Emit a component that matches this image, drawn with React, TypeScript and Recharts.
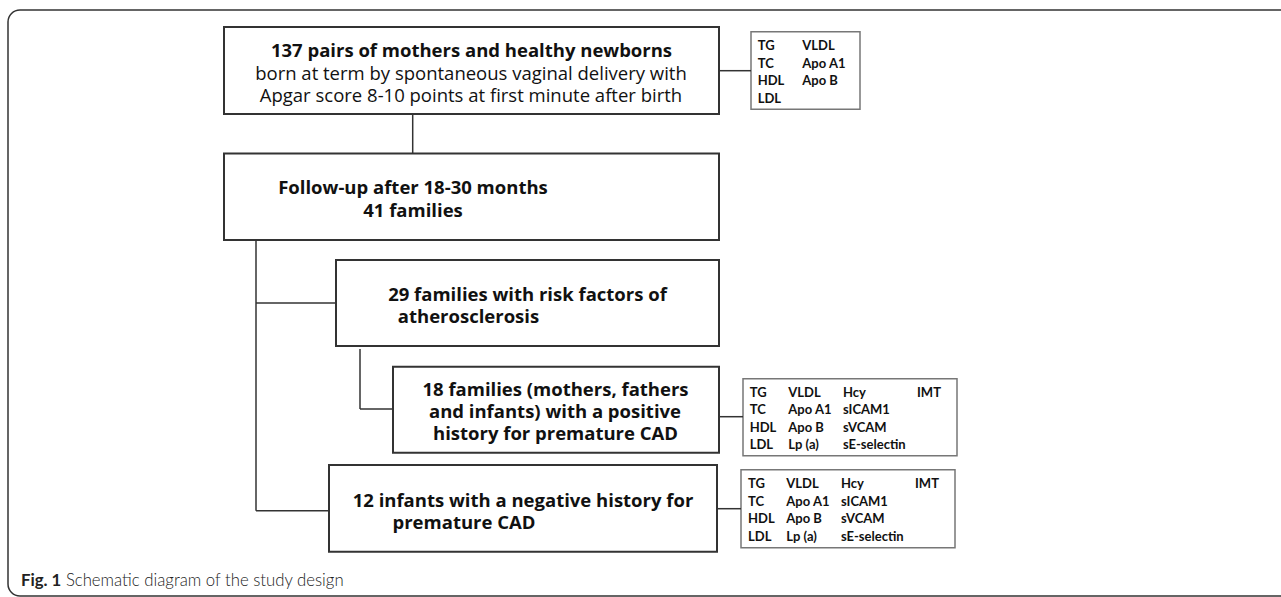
import React from 'react';
import {
  ComposedChart,
  XAxis,
  YAxis,
  Scatter,
  ReferenceArea,
  ReferenceLine,
} from 'recharts';

const W = 1281;
const H = 597;

// diagram units follow the figure's own pixel grid
const mainBoxes = [
  { id: 'cohort', x1: 224, x2: 719, y1: 27, y2: 114 },
  { id: 'followup', x1: 224, x2: 719, y1: 153.5, y2: 240 },
  { id: 'risk', x1: 336, x2: 719, y1: 260, y2: 346 },
  { id: 'positive', x1: 393, x2: 719, y1: 366.7, y2: 452.7 },
  { id: 'negative', x1: 329, x2: 717, y1: 465, y2: 551.7 },
];

const panelBoxes = [
  { id: 'labsA', x1: 751, x2: 860, y1: 31.7, y2: 109.3 },
  { id: 'labsB', x1: 743, x2: 957, y1: 378.7, y2: 455.7 },
  { id: 'labsC', x1: 741, x2: 955, y1: 469.7, y2: 547.7 },
];

const connectors = [
  [[412.7, 114], [412.7, 153.5]],
  [[719, 70.7], [751, 70.7]],
  [[256, 240], [256, 510.7]],
  [[256, 303], [336, 303]],
  [[256, 510.7], [329, 510.7]],
  [[360, 349], [360, 409]],
  [[360, 409], [393, 409]],
  [[719, 416.7], [743, 416.7]],
  [[717, 508.7], [741, 508.7]],
];

const boxLabels = [
  { x: 471.5, y: 49, text: '137 pairs of mothers and healthy newborns', bold: true },
  { x: 471, y: 72, text: 'born at term by spontaneous vaginal delivery with', bold: false },
  { x: 471, y: 94, text: 'Apgar score 8-10 points at first minute after birth', bold: false },
  { x: 413, y: 186, text: 'Follow-up after 18-30 months', bold: true },
  { x: 413, y: 209, text: '41 families', bold: true },
  { x: 527.5, y: 293, text: '29 families with risk factors of', bold: true },
  { x: 468.5, y: 315, text: 'atherosclerosis', bold: true },
  { x: 555.5, y: 388, text: '18 families (mothers, fathers', bold: true },
  { x: 555, y: 410.7, text: 'and infants) with a positive', bold: true },
  { x: 555.5, y: 432.7, text: 'history for premature CAD', bold: true },
  { x: 523, y: 499, text: '12 infants with a negative history for', bold: true },
  { x: 464, y: 521, text: 'premature CAD', bold: true },
];

const shortPanel = [
  ['TG', 'VLDL'],
  ['TC', 'Apo A1'],
  ['HDL', 'Apo B'],
  ['LDL', ''],
];

const longPanel = [
  ['TG', 'VLDL', 'Hcy', 'IMT'],
  ['TC', 'Apo A1', 'sICAM1', ''],
  ['HDL', 'Apo B', 'sVCAM', ''],
  ['LDL', 'Lp (a)', 'sE-selectin', ''],
];

const panelA_cols = [757.7, 802.3];
const panelA_rows = [45, 62.7, 80, 97.7];
const panelB_cols = [749.7, 788.3, 843, 917];
const panelB_rows = [391.7, 409.3, 427, 444.3];
const panelC_cols = [748, 786.3, 841, 915];
const panelC_rows = [483, 501, 518.3, 535.7];

const caption = { x: 21, y: 579, bold: 'Fig. 1', rest: ' Schematic diagram of the study design' };

const BOX_FONT = '"Open Sans", "Noto Sans", sans-serif';
const CELL_FONT = '"Liberation Sans Narrow", Lato, sans-serif';
const CAPTION_FONT = 'Lato, "Open Sans", sans-serif';

const buildCells = (panel: string[][], cols: number[], rows: number[]) =>
  panel.flatMap((row, r) =>
    row
      .map((text, c) => ({ x: cols[c], y: rows[r], text }))
      .filter((cell) => cell.text !== '')
  );

const panelCells = [
  ...buildCells(shortPanel, panelA_cols, panelA_rows),
  ...buildCells(longPanel, panelB_cols, panelB_rows),
  ...buildCells(longPanel, panelC_cols, panelC_rows),
];

const BoxText = (props: any) => {
  const { cx, cy, payload } = props;
  return (
    <text
      x={cx}
      y={cy}
      textAnchor="middle"
      dominantBaseline="central"
      fontFamily={BOX_FONT}
      fontSize={18.5}
      fontWeight={payload.bold ? 700 : 400}
      fill="#111"
    >
      {payload.text}
    </text>
  );
};

const CellText = (props: any) => {
  const { cx, cy, payload } = props;
  return (
    <text
      x={cx}
      y={cy}
      textAnchor="start"
      dominantBaseline="central"
      fontFamily={CELL_FONT}
      fontSize={13}
      fontWeight={700}
      fill="#111"
    >
      {payload.text}
    </text>
  );
};

const CaptionText = (props: any) => {
  const { cx, cy, payload } = props;
  return (
    <text x={cx} y={cy} dominantBaseline="central" fontFamily={CAPTION_FONT} fontSize={16.75} fill="#222">
      <tspan fontWeight={700}>{payload.bold}</tspan>
      <tspan fontWeight={300}>{payload.rest}</tspan>
    </text>
  );
};

export default function App() {
  return (
    <div style={{ position: 'absolute', left: 0, top: 0, width: W, height: H, background: '#fff' }}>
      <ComposedChart width={W} height={H} margin={{ top: 0, right: 0, bottom: 0, left: 0 }}>
        <XAxis type="number" dataKey="x" domain={[0, W]} hide allowDataOverflow />
        <YAxis type="number" dataKey="y" domain={[0, H]} reversed hide allowDataOverflow />

        {/* outer figure frame, open on the right */}
        <ReferenceArea
          x1={8}
          x2={1300}
          y1={10}
          y2={596}
          ifOverflow="visible"
          fill="none"
          stroke="#333"
          strokeWidth={1.5}
          radius={12}
        />

        {connectors.map(([a, b], i) => (
          <ReferenceLine
            key={`conn-${i}`}
            segment={[{ x: a[0], y: a[1] }, { x: b[0], y: b[1] }]}
            stroke="#333"
            strokeWidth={1.5}
            ifOverflow="visible"
          />
        ))}

        {mainBoxes.map((b) => (
          <ReferenceArea
            key={b.id}
            x1={b.x1}
            x2={b.x2}
            y1={b.y1}
            y2={b.y2}
            ifOverflow="visible"
            fill="#fff"
            fillOpacity={1}
            stroke="#333"
            strokeWidth={2}
          />
        ))}

        {panelBoxes.map((b) => (
          <ReferenceArea
            key={b.id}
            x1={b.x1}
            x2={b.x2}
            y1={b.y1}
            y2={b.y2}
            ifOverflow="visible"
            fill="#fff"
            fillOpacity={1}
            stroke="#777"
            strokeWidth={1.5}
          />
        ))}

        <Scatter data={boxLabels} shape={BoxText} isAnimationActive={false} />
        <Scatter data={panelCells} shape={CellText} isAnimationActive={false} />
        <Scatter data={[caption]} shape={CaptionText} isAnimationActive={false} />
      </ComposedChart>
    </div>
  );
}
